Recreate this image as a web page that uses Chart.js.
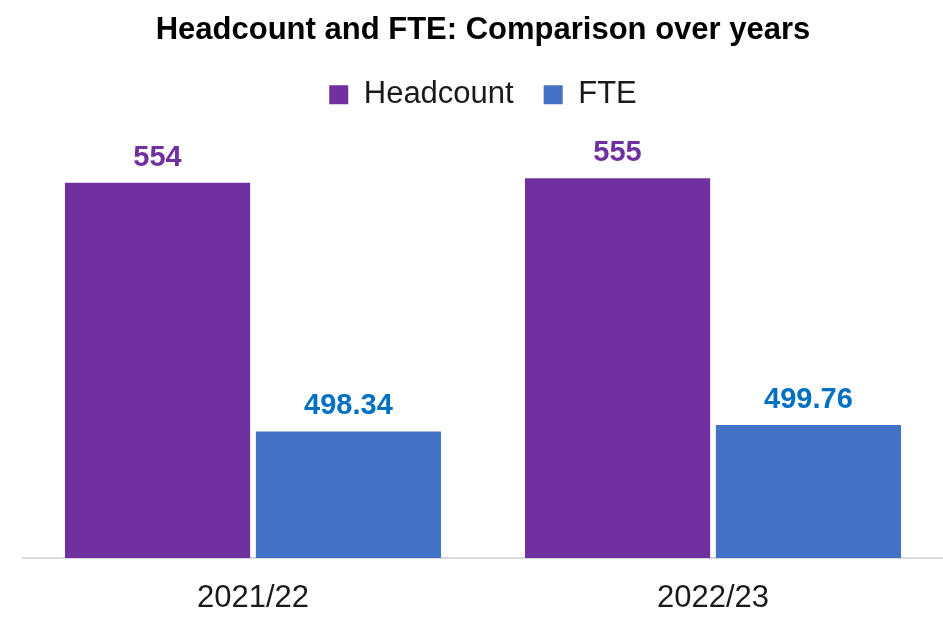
<!DOCTYPE html>
<html>
<head>
<meta charset="utf-8">
<script src="https://cdn.jsdelivr.net/npm/chart.js@4/dist/chart.umd.min.js"></script>
<style>
  html, body { margin: 0; padding: 0; background: #fff; }
  #wrap { width: 943px; height: 623px; }
</style>
</head>
<body>
<div id="wrap"><canvas id="ch"></canvas></div>
<script>
const years = ['2021/22', '2022/23'];
const headcount = [554, 555];
const fte = [498.34, 499.76];
const headcountLabels = ['554', '555'];
const fteLabels = ['498.34', '499.76'];

// values written above each bar
const barLabels = {
    id: 'barLabels',
    afterDatasetsDraw(chart) {
        let ctx = chart.ctx;
        ctx.save();
        ctx.font = 'bold 29px "Liberation Sans", Arial, sans-serif';
        ctx.textAlign = 'center';
        ctx.textBaseline = 'middle';
        chart.data.datasets.forEach((ds, i) => {
            chart.getDatasetMeta(i).data.forEach((bar, j) => {
                ctx.fillStyle = ds.labelColor;
                ctx.fillText(ds.valueLabels[j], bar.x, bar.y - 25);
            });
        });
        ctx.restore();
    }
};

let chart = new Chart('ch', {
    type: 'bar',
    data: {
        labels: years,
        datasets: [{
            label: 'Headcount',
            data: headcount,
            valueLabels: headcountLabels,
            labelColor: '#7030A0',
            backgroundColor: '#7030A0'
        }, {
            label: 'FTE',
            data: fte,
            valueLabels: fteLabels,
            labelColor: '#0070C0',
            backgroundColor: '#4472C4'
        }]
    },
    options: {
        responsive: true,
        maintainAspectRatio: false,
        animation: { duration: 0 },
        categoryPercentage: 0.83,
        barPercentage: 0.97,
        layout: { padding: { left: 23, right: 0, top: 0, bottom: 0 } },
        scales: {
            x: {
                grid: { display: false, drawTicks: false },
                border: { display: true, color: '#d9d9d9', width: 2 },
                ticks: {
                    color: '#1a1a1a',
                    padding: 22,
                    font: { family: '"Liberation Sans", Arial, sans-serif', size: 31 }
                },
                afterFit: (scale) => { scale.height = 65; }
            },
            y: {
                display: false,
                min: 470,
                max: 568
            }
        },
        plugins: {
            title: {
                display: true,
                text: 'Headcount and FTE: Comparison over years',
                color: '#000',
                padding: { top: 12, bottom: 0 },
                font: { family: '"Liberation Sans", Arial, sans-serif', size: 31, weight: 'bold' }
            },
            legend: {
                labels: {
                    color: '#1a1a1a',
                    boxWidth: 19,
                    boxHeight: 19,
                    padding: 30,
                    font: { family: '"Liberation Sans", Arial, sans-serif', size: 31 }
                }
            },
            tooltip: { enabled: false }
        }
    },
    plugins: [barLabels]
});
</script>
</body>
</html>
